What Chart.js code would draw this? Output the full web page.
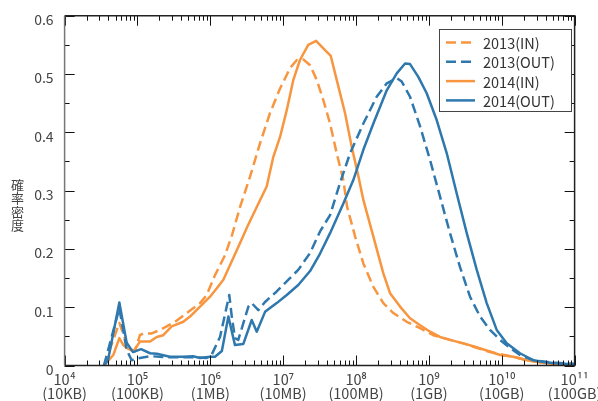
<!DOCTYPE html>
<html><head><meta charset="utf-8">
<script src="https://cdn.jsdelivr.net/npm/chart.js@4.4.1/dist/chart.umd.min.js"></script>
<style>html,body{margin:0;padding:0;background:#fff;}#wrap{width:598px;height:401px;}</style>
</head><body><div id="wrap"><canvas id="c" width="598" height="401"></canvas></div>
<script>
// ---- data (x: file size in bytes, y: probability density) ----
const seriesLabels = ['2013(IN)', '2013(OUT)', '2014(IN)', '2014(OUT)'];
const yAxisTitle = '確率密度';
const xTickValues = [1e4, 1e5, 1e6, 1e7, 1e8, 1e9, 1e10, 1e11];
const xTickPowers = ['10⁴', '10⁵', '10⁶', '10⁷', '10⁸', '10⁹', '10¹⁰', '10¹¹'];
const xTickUnits = ['(10KB)', '(100KB)', '(1MB)', '(10MB)', '(100MB)', '(1GB)', '(10GB)', '(100GB)'];
const yTickLabels = ['0', '0.1', '0.2', '0.3', '0.4', '0.5', '0.6'];

const in2013Sizes = [3.47e4, 5.64e4, 7.48e4, 9.25e4, 1.08e5, 1.20e5, 1.57e5, 2.04e5, 2.52e5, 3.27e5, 4.74e5, 7.23e5, 8.93e5, 1.16e6, 1.59e6, 1.99e6, 2.56e6, 3.51e6, 4.81e6, 6.59e6, 9.06e6, 1.24e7, 1.54e7, 1.89e7, 2.34e7, 2.89e7, 3.56e7, 4.40e7, 5.43e7, 6.70e7, 7.55e7, 9.68e7, 1.26e8, 1.73e8, 2.37e8, 3.25e8, 4.97e8, 7.57e8, 1.15e9, 1.95e9, 2.95e9, 6.90e9, 1.43e10, 2.24e10, 5.13e10, 8.71e10];
const in2013Density = [0, 0.073, 0.030, 0.024, 0.052, 0.055, 0.055, 0.061, 0.067, 0.075, 0.090, 0.107, 0.121, 0.155, 0.189, 0.224, 0.272, 0.324, 0.381, 0.433, 0.475, 0.510, 0.524, 0.525, 0.515, 0.490, 0.455, 0.415, 0.364, 0.318, 0.272, 0.222, 0.175, 0.135, 0.107, 0.090, 0.075, 0.064, 0.052, 0.044, 0.038, 0.023, 0.015, 0.009, 0.003, 0.001];

const out2013Sizes = [3.47e4, 5.64e4, 7.11e4, 8.34e4, 1.00e5, 1.48e5, 2.82e5, 5.62e5, 8.91e5, 1.04e6, 1.36e6, 1.82e6, 1.97e6, 2.18e6, 2.42e6, 3.33e6, 3.70e6, 4.56e6, 5.64e6, 8.15e6, 1.24e7, 1.61e7, 2.34e7, 3.21e7, 4.40e7, 6.03e7, 8.28e7, 1.26e8, 1.92e8, 2.64e8, 3.62e8, 4.24e8, 5.51e8, 7.57e8, 1.04e9, 1.42e9, 1.95e9, 2.67e9, 3.67e9, 5.04e9, 6.90e9, 9.48e9, 1.30e10, 1.78e10, 2.72e10, 5.11e10, 9.77e10];
const out2013Density = [0, 0.098, 0.027, 0.009, 0.012, 0.016, 0.014, 0.014, 0.013, 0.018, 0.049, 0.121, 0.084, 0.047, 0.044, 0.101, 0.107, 0.095, 0.109, 0.127, 0.150, 0.164, 0.193, 0.230, 0.258, 0.313, 0.364, 0.415, 0.461, 0.484, 0.493, 0.487, 0.461, 0.410, 0.352, 0.290, 0.227, 0.169, 0.118, 0.084, 0.061, 0.044, 0.030, 0.018, 0.009, 0.005, 0.003];

const in2014Sizes = [3.47e4, 4.66e4, 5.64e4, 6.40e4, 7.11e4, 8.77e4, 1.08e5, 1.49e5, 1.84e5, 2.26e5, 2.95e5, 4.26e5, 5.26e5, 7.23e5, 9.91e5, 1.22e6, 1.51e6, 1.86e6, 2.56e6, 3.30e6, 4.34e6, 5.94e6, 7.33e6, 9.06e6, 1.12e7, 1.38e7, 1.70e7, 2.21e7, 2.83e7, 3.56e7, 4.50e7, 5.43e7, 7.06e7, 8.73e7, 1.08e8, 1.26e8, 1.73e8, 2.37e8, 2.93e8, 4.02e8, 5.51e8, 7.57e8, 1.04e9, 1.42e9, 1.95e9, 2.97e9, 4.07e9, 6.90e9, 9.48e9, 1.44e10, 2.20e10, 3.36e10, 5.11e10, 8.67e10];
const in2014Density = [0, 0.018, 0.047, 0.035, 0.030, 0.024, 0.041, 0.041, 0.049, 0.052, 0.067, 0.075, 0.084, 0.101, 0.118, 0.132, 0.147, 0.172, 0.210, 0.241, 0.272, 0.307, 0.358, 0.392, 0.438, 0.490, 0.524, 0.550, 0.557, 0.544, 0.531, 0.490, 0.433, 0.375, 0.324, 0.284, 0.221, 0.158, 0.124, 0.101, 0.081, 0.069, 0.058, 0.049, 0.044, 0.038, 0.033, 0.024, 0.018, 0.015, 0.009, 0.005, 0.003, 0.001];

const out2014Sizes = [3.48e4, 3.94e4, 5.64e4, 7.11e4, 8.69e4, 1.12e5, 1.49e5, 1.84e5, 2.79e5, 4.22e5, 5.79e5, 7.23e5, 9.91e5, 1.16e6, 1.44e6, 1.77e6, 2.18e6, 2.84e6, 3.70e6, 4.34e6, 5.64e6, 8.15e6, 1.12e7, 1.61e7, 2.34e7, 3.21e7, 4.40e7, 6.70e7, 9.18e7, 1.26e8, 1.73e8, 2.64e8, 3.62e8, 4.71e8, 5.51e8, 7.16e8, 9.33e8, 1.28e9, 1.76e9, 2.41e9, 3.31e9, 4.54e9, 6.22e9, 8.53e9, 1.17e10, 1.78e10, 2.72e10, 4.15e10, 7.02e10, 9.77e10];
const out2014Density = [0, 0.009, 0.108, 0.039, 0.023, 0.028, 0.021, 0.020, 0.015, 0.015, 0.016, 0.013, 0.015, 0.015, 0.025, 0.084, 0.035, 0.037, 0.078, 0.058, 0.092, 0.107, 0.121, 0.138, 0.162, 0.192, 0.227, 0.278, 0.318, 0.370, 0.415, 0.472, 0.501, 0.518, 0.517, 0.495, 0.467, 0.421, 0.364, 0.295, 0.227, 0.164, 0.107, 0.061, 0.038, 0.021, 0.009, 0.005, 0.003, 0.002];

// ---- styling ----
const ORANGE = '#F8953F';
const BLUE = '#2E78AE';
const FONT = "'Noto Sans CJK JP', 'Noto Sans', sans-serif";
const TEXT = '#444';

function pts(sizes, dens) { return sizes.map((s, i) => ({x: s, y: dens[i]})); }

const datasets = [
  {label: seriesLabels[0], data: pts(in2013Sizes, in2013Density), borderColor: ORANGE, borderDash: [10, 5], order: 3},
  {label: seriesLabels[1], data: pts(out2013Sizes, out2013Density), borderColor: BLUE, borderDash: [10, 5], order: 1},
  {label: seriesLabels[2], data: pts(in2014Sizes, in2014Density), borderColor: ORANGE, borderDash: [], order: 2},
  {label: seriesLabels[3], data: pts(out2014Sizes, out2014Density), borderColor: BLUE, borderDash: [], order: 0}
].map(d => Object.assign(d, {borderWidth: 2.5, pointRadius: 0, tension: 0, fill: false, borderJoinStyle: 'round'}));

const decor = {
  id: 'decor',
  afterDatasetsDraw(chart) {
    const {ctx, chartArea: a, scales: {x, y}} = chart;
    ctx.save();
    ctx.strokeStyle = '#111';
    ctx.lineWidth = 1;
    ctx.beginPath();
    for (let i = 0; i < xTickValues.length; i++) {
      for (let m = 1; m <= 9; m++) {
        const v = xTickValues[i] * m;
        if (v > x.max * 1.0001) break;
        const px = Math.round(x.getPixelForValue(v)) + 0.5;
        const len = m === 1 ? 10 : 5;
        ctx.moveTo(px, a.bottom); ctx.lineTo(px, a.bottom - len);
        ctx.moveTo(px, a.top); ctx.lineTo(px, a.top + len);
      }
    }
    for (let k = 0; k <= 12; k++) {
      const py = Math.round(y.getPixelForValue(k * 0.05)) + 0.5;
      const len = k % 2 === 0 ? 10 : 5;
      ctx.moveTo(a.left, py); ctx.lineTo(a.left + len, py);
      ctx.moveTo(a.right, py); ctx.lineTo(a.right - len, py);
    }
    ctx.stroke();
    ctx.lineWidth = 1.5;
    ctx.strokeStyle = '#222';
    ctx.beginPath();
    ctx.moveTo(a.left, a.bottom); ctx.lineTo(a.right, a.bottom); ctx.lineTo(a.right, a.top); ctx.lineTo(a.left, a.top);
    ctx.stroke();
    ctx.strokeStyle = '#777';
    ctx.beginPath();
    ctx.moveTo(a.left, a.top); ctx.lineTo(a.left, a.bottom);
    ctx.stroke();

    // y-axis title, stacked vertically
    ctx.fillStyle = TEXT;
    ctx.font = '13px ' + FONT;
    ctx.textAlign = 'center';
    ctx.textBaseline = 'middle';
    const chars = Array.from(yAxisTitle);
    const cy = 205, step = 13.5;
    chars.forEach((ch, i) => ctx.fillText(ch, 17.5, cy + (i - (chars.length - 1) / 2) * step));

    // legend
    const lx = 439.5, ly = 29.5, lw = 132, lh = 82;
    ctx.fillStyle = '#fff';
    ctx.fillRect(lx, ly, lw, lh);
    ctx.lineWidth = 1;
    ctx.strokeStyle = '#444';
    ctx.strokeRect(lx, ly, lw, lh);
    ctx.font = '14.5px ' + FONT;
    ctx.textAlign = 'left';
    ctx.textBaseline = 'middle';
    chart.data.datasets.forEach((ds, i) => {
      const yy = 42.5 + i * 19.3;
      ctx.strokeStyle = ds.borderColor;
      ctx.lineWidth = 2.5;
      ctx.setLineDash(ds.borderDash || []);
      ctx.beginPath(); ctx.moveTo(446, yy); ctx.lineTo(475, yy); ctx.stroke();
      ctx.setLineDash([]);
      ctx.fillStyle = '#333';
      ctx.fillText(ds.label, 483, yy + 1);
    });
    ctx.restore();
  }
};

new Chart(document.getElementById('c'), {
  type: 'line',
  data: {datasets},
  plugins: [decor],
  options: {
    responsive: false,
    animation: false,
    layout: {padding: {left: 0, right: 23.4, top: 15.7, bottom: 0}},
    plugins: {legend: {display: false}, tooltip: {enabled: false}},
    scales: {
      x: {
        type: 'logarithmic', min: 1e4, max: 1e11,
        grid: {display: false, drawTicks: false},
        border: {display: false},
        afterBuildTicks: s => { s.ticks = xTickValues.map(v => ({value: v, major: true})); },
        ticks: {
          autoSkip: false, maxRotation: 0, minRotation: 0, padding: 7,
          color: TEXT, font: {family: FONT, size: 14.5, lineHeight: '14px'},
          callback: (v, i) => [xTickPowers[i], xTickUnits[i]]
        },
        afterFit: s => { s.height = 35.5; s.paddingLeft = 0; s.paddingRight = 0; }
      },
      y: {
        min: 0, max: 0.6,
        grid: {display: false, drawTicks: false},
        border: {display: false},
        ticks: {
          stepSize: 0.1, padding: 11, labelOffset: 4,
          color: TEXT, font: {family: FONT, size: 14},
          callback: (v, i) => yTickLabels[i]
        },
        afterFit: s => { s.width = 64.6; s.paddingTop = 0; s.paddingBottom = 0; }
      }
    }
  }
});
</script></body></html>
